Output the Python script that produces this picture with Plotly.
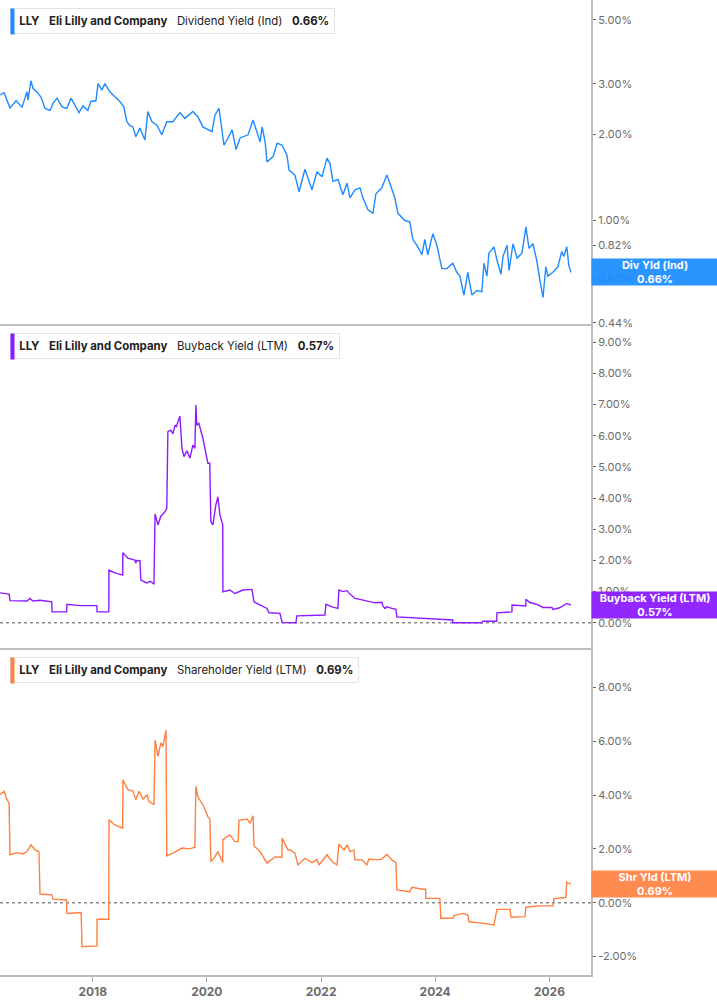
import math
import plotly.graph_objects as go

# ---------------- data ----------------
div_dates = ["2016-05-18","2016-06-13","2016-07-21","2016-08-29","2016-10-06","2016-11-07","2016-11-13","2016-12-02","2016-12-15",
"2017-01-16","2017-02-05","2017-03-02","2017-04-03","2017-04-22","2017-05-18","2017-06-19","2017-07-20","2017-08-15","2017-09-03",
"2017-10-05","2017-10-31","2017-12-01","2017-12-20","2018-01-22","2018-02-04","2018-03-01","2018-03-20","2018-04-21","2018-05-23",
"2018-06-24","2018-07-19","2018-08-08","2018-08-27","2018-09-15","2018-10-04","2018-10-30","2018-12-01","2018-12-20","2019-01-15",
"2019-02-16","2019-03-19","2019-04-20","2019-05-29","2019-07-13","2019-08-14","2019-10-04","2019-11-05","2019-12-07","2020-02-03",
"2020-02-22","2020-03-19","2020-04-07","2020-04-20","2020-05-16","2020-06-11","2020-07-06","2020-08-01","2020-09-21","2020-10-23",
"2020-12-07","2020-12-20","2021-01-08","2021-01-20","2021-02-28","2021-03-26","2021-04-27","2021-05-28","2021-06-10","2021-07-18",
"2021-08-13","2021-09-20","2021-11-04","2021-12-06","2022-01-07","2022-02-08","2022-02-27","2022-03-18","2022-04-19","2022-05-21",
"2022-06-16","2022-07-05","2022-08-06","2022-09-07","2022-09-26","2022-10-28","2022-11-29","2022-12-18","2023-01-25","2023-02-26",
"2023-03-17","2023-04-18","2023-05-08","2023-06-21","2023-07-23","2023-08-11","2023-09-12","2023-10-08","2023-10-27","2023-11-15",
"2023-12-17","2024-01-12","2024-02-13","2024-03-16","2024-04-23","2024-05-19","2024-06-07","2024-07-03","2024-07-28","2024-08-23",
"2024-09-24","2024-10-26","2024-11-08","2024-11-27","2024-12-10","2025-01-11","2025-01-30","2025-02-25","2025-03-10","2025-04-05",
"2025-04-18","2025-05-13","2025-06-08","2025-07-09","2025-08-04","2025-08-23","2025-09-18","2025-10-13","2025-11-01","2025-11-21",
"2025-12-09","2025-12-22","2026-01-23","2026-02-24","2026-03-21","2026-04-03","2026-04-22","2026-05-05","2026-05-18"]
div_vals = [2.74,2.79,2.47,2.62,2.48,2.81,2.63,3.07,2.89,
2.78,2.69,2.46,2.42,2.56,2.67,2.49,2.46,2.67,2.56,
2.38,2.51,2.42,2.60,2.62,3.00,2.85,3.00,2.81,2.70,
2.60,2.49,2.21,2.14,2.12,1.96,2.10,1.91,2.40,2.21,
2.15,1.99,2.21,2.21,2.38,2.27,2.40,2.30,2.12,2.04,
2.33,2.46,2.07,1.83,1.94,2.07,1.77,1.94,1.99,2.24,
1.88,2.12,1.88,1.60,1.67,1.86,1.83,1.69,1.50,1.44,
1.26,1.51,1.28,1.48,1.42,1.65,1.58,1.37,1.39,1.23,
1.35,1.20,1.28,1.30,1.20,1.09,1.06,1.24,1.30,1.44,
1.35,1.20,1.06,1.00,0.99,0.86,0.81,0.76,0.86,0.76,
0.90,0.82,0.68,0.68,0.71,0.66,0.64,0.55,0.66,0.55,
0.57,0.565,0.71,0.64,0.77,0.81,0.73,0.65,0.75,0.82,
0.67,0.83,0.74,0.77,0.95,0.80,0.83,0.72,0.62,0.54,
0.69,0.64,0.66,0.69,0.78,0.75,0.81,0.70,0.66]

bb_dates = ["2016-05-18","2016-07-15","2016-07-21","2016-11-07","2016-11-26","2016-12-15","2017-01-30","2017-04-14","2017-04-16",
"2017-07-18","2017-07-20","2017-10-12","2018-01-28","2018-01-29","2018-04-14","2018-04-15","2018-05-23","2018-07-12","2018-07-13",
"2018-08-14","2018-09-28","2018-10-04","2018-10-08","2018-10-30","2018-11-05","2018-12-14","2019-01-05","2019-01-28","2019-02-04",
"2019-02-23","2019-03-13","2019-04-08","2019-04-20","2019-04-27","2019-05-16","2019-05-29","2019-06-12","2019-06-20","2019-07-13",
"2019-07-26","2019-08-08","2019-08-27","2019-09-15","2019-10-04","2019-10-17","2019-10-23","2019-10-29","2019-11-11","2019-12-07",
"2019-12-26","2020-01-08","2020-01-20","2020-01-27","2020-02-09","2020-02-28","2020-03-12","2020-03-25","2020-04-12","2020-04-13",
"2020-05-28","2020-06-29","2020-08-19","2020-10-16","2020-10-29","2020-12-07","2021-01-20","2021-02-02","2021-04-13","2021-04-27",
"2021-07-24","2021-07-30","2022-01-26","2022-02-01","2022-03-12","2022-04-19","2022-04-25","2022-05-21","2022-06-16","2022-07-05",
"2022-08-06","2022-09-07","2022-10-21","2022-12-11","2023-01-25","2023-02-01","2023-02-14","2023-02-26","2023-03-30","2023-04-25",
"2023-05-01","2023-10-14","2024-04-22","2024-04-23","2024-10-26","2024-11-01","2025-01-29","2025-01-30","2025-04-11","2025-05-06",
"2025-05-07","2025-07-16","2025-08-03","2025-08-04","2025-08-29","2025-10-13","2025-11-21","2026-01-17","2026-01-23","2026-03-08",
"2026-04-22","2026-05-18"]
bb_vals = [0.96,0.92,0.71,0.70,0.78,0.70,0.72,0.67,0.35,
0.35,0.59,0.55,0.55,0.35,0.35,1.69,1.60,1.53,2.25,
2.07,2.01,1.91,2.00,1.99,1.37,1.28,1.33,1.24,3.49,
3.14,3.42,3.56,3.67,6.13,6.18,6.06,6.34,6.30,6.63,
5.60,5.33,5.52,5.28,5.70,5.60,6.99,6.34,6.40,5.92,
5.44,5.12,5.12,3.24,3.14,3.78,4.04,3.46,3.14,0.99,
1.05,0.94,1.05,1.07,0.67,0.57,0.46,0.32,0.30,0.01,
0.00,0.22,0.25,0.59,0.51,0.46,1.05,1.00,1.03,0.92,
0.78,0.75,0.70,0.64,0.66,0.54,0.46,0.51,0.46,0.43,
0.19,0.14,0.09,0.00,0.00,0.05,0.05,0.32,0.35,0.35,
0.57,0.54,0.54,0.75,0.65,0.59,0.49,0.49,0.43,0.48,
0.62,0.57]

shr_dates = ["2016-05-18","2016-06-13","2016-07-02","2016-07-15","2016-07-21","2016-09-04","2016-10-13","2016-11-07","2016-12-02",
"2016-12-28","2017-01-22","2017-01-29","2017-04-14","2017-04-22","2017-07-18","2017-07-20","2017-10-19","2017-10-25","2018-01-28",
"2018-01-29","2018-04-14","2018-04-15","2018-05-23","2018-07-12","2018-07-13","2018-08-14","2018-09-15","2018-10-04","2018-10-24",
"2018-11-19","2018-12-14","2018-12-27","2019-01-28","2019-02-04","2019-02-23","2019-03-13","2019-03-26","2019-04-15","2019-04-20",
"2019-05-29","2019-07-26","2019-09-15","2019-10-17","2019-10-23","2019-11-05","2019-12-07","2020-01-08","2020-01-21","2020-01-27",
"2020-02-22","2020-03-12","2020-04-12","2020-04-13","2020-05-28","2020-06-29","2020-07-20","2020-07-25","2020-09-15","2020-10-04",
"2020-10-23","2020-10-29","2020-12-07","2021-01-20","2021-02-09","2021-03-12","2021-04-26","2021-04-27","2021-06-04","2021-06-17",
"2021-07-18","2021-08-06","2021-09-20","2021-11-04","2021-12-06","2021-12-19","2022-02-08","2022-03-12","2022-04-13","2022-04-25",
"2022-05-28","2022-06-16","2022-07-05","2022-07-30","2022-08-06","2022-09-20","2022-10-21","2022-11-03","2022-12-24","2023-01-25",
"2023-02-26","2023-03-30","2023-04-25","2023-05-01","2023-07-23","2023-08-05","2023-10-14","2023-11-01","2023-11-02","2024-01-31",
"2024-02-06","2024-04-23","2024-04-30","2024-06-27","2024-07-28","2024-08-04","2024-10-13","2024-11-27","2025-01-11","2025-01-30",
"2025-04-24","2025-04-30","2025-07-28","2025-08-04","2025-11-01","2026-01-23","2026-01-30","2026-04-16","2026-04-22","2026-05-18"]
shr_vals = [4.01,4.14,3.83,3.70,1.78,1.86,1.81,1.90,2.15,
1.96,1.90,0.32,0.29,0.13,0.10,-0.40,-0.37,-1.64,-1.61,
-0.62,-0.62,3.08,2.89,2.77,4.57,4.20,4.15,3.83,4.14,
3.85,4.00,3.76,3.64,6.04,5.44,5.94,5.80,6.41,1.74,
1.84,2.03,2.00,2.06,4.32,3.93,3.64,3.20,3.10,1.53,
1.70,1.90,1.49,2.34,2.52,2.27,2.27,3.06,3.11,2.95,
3.23,2.11,1.90,1.47,1.56,1.70,1.69,2.40,1.96,1.96,
1.84,1.40,1.65,1.49,1.60,1.40,1.78,1.53,1.40,2.18,
1.96,2.15,1.90,1.95,1.59,1.59,1.40,1.62,1.59,1.62,
1.80,1.59,1.49,0.47,0.41,0.57,0.50,0.50,0.16,0.16,
-0.58,-0.58,-0.48,-0.40,-0.46,-0.71,-0.75,-0.79,-0.83,-0.25,
-0.25,-0.54,-0.52,-0.17,-0.12,-0.12,0.15,0.19,0.76,0.69]

div_ticks = [5.0, 3.0, 2.0, 1.0, 0.82, 0.63, 0.44]
bb_ticks = [0, 1, 2, 3, 4, 5, 6, 7, 8, 9]
shr_ticks = [-2, 0, 2, 4, 6, 8]
x_ticks = ["2018-01-01", "2020-01-01", "2022-01-01", "2024-01-01", "2026-01-01"]
x_ticklabels = ["2018", "2020", "2022", "2024", "2026"]

ticker = "LLY"
company = "Eli Lilly and Company"
series_names = ["Dividend Yield (Ind)", "Buyback Yield (LTM)", "Shareholder Yield (LTM)"]
short_names = ["Div Yld (Ind)", "Buyback Yield (LTM)", "Shr Yld (LTM)"]
last_vals = [div_vals[-1], bb_vals[-1], shr_vals[-1]]

# ---------------- style ----------------
BLUE = "#1f8bff"
PURPLE = "#8c1bff"
ORANGE = "#ff8040"
COLORS = [BLUE, PURPLE, ORANGE]
BOXCOL = ["rgba(26,140,255,0.93)", "rgba(140,27,255,0.95)", "rgba(255,133,72,0.95)"]
FONT = "Inter"

W, H = 717, 1005
ML, MR, MT, MB = 0, 126, 0, 30
PW = W - ML - MR
PH = H - MT - MB

def fx(p):
    return p / PW

def fy(p):
    return 1 - p / PH

doms = [[fy(324), 1.0], [fy(648), fy(325)], [0.0, fy(649)]]

fig = go.Figure()
ys = [div_vals, bb_vals, shr_vals]
xs = [div_dates, bb_dates, shr_dates]
for i in range(3):
    fig.add_trace(go.Scatter(x=xs[i], y=ys[i], mode="lines",
                             line=dict(color=COLORS[i], width=1.4),
                             xaxis="x" if i == 0 else f"x{i+1}",
                             yaxis="y" if i == 0 else f"y{i+1}",
                             showlegend=False, hoverinfo="skip"))

xrange = ["2016-05-18", "2026-09-24"]
axline = "#bdbdbd"
base_x = dict(range=xrange, showgrid=False, zeroline=False, showline=True,
              linecolor=axline, linewidth=1.5, domain=[0, 1])
base_y = dict(side="right", showgrid=False, zeroline=False, showline=True,
              linecolor=axline, linewidth=2, ticks="outside", ticklen=3,
              tickcolor="#666", tickfont=dict(family=FONT, size=11, color="#6b6b6b"))

def pct(v):
    return f"{v:.2f}%"

fig.update_layout(
    width=W, height=H,
    margin=dict(l=ML, r=MR, t=MT, b=MB, autoexpand=False),
    paper_bgcolor="white", plot_bgcolor="white",
    xaxis=dict(base_x, anchor="y", showticklabels=False, ticks=""),
    xaxis2=dict(base_x, anchor="y2", matches="x", showticklabels=False, ticks=""),
    xaxis3=dict(base_x, anchor="y3", matches="x", tickvals=x_ticks, ticktext=x_ticklabels,
                ticks="outside", ticklen=5, tickcolor="#aaa",
                tickfont=dict(family=FONT, size=12, color="#6b6b6b", weight="bold")),
    yaxis=dict(base_y, domain=doms[0], anchor="x", type="log",
               range=[math.log10(0.436), math.log10(5.87)],
               tickvals=div_ticks, ticktext=[pct(v) for v in div_ticks]),
    yaxis2=dict(base_y, domain=doms[1], anchor="x2", range=[-0.81, 9.555],
                tickvals=bb_ticks, ticktext=[pct(v) for v in bb_ticks]),
    yaxis3=dict(base_y, domain=doms[2], anchor="x3", range=[-2.69, 9.43],
                tickvals=shr_ticks, ticktext=[pct(v) for v in shr_ticks]),
)

# zero dotted lines
for yr in ["y2", "y3"]:
    fig.add_shape(type="line", xref="paper", x0=0, x1=1, yref=yr, y0=0, y1=0,
                  line=dict(color="#8a8a8a", width=1.5, dash="dot"), layer="below")

# legend boxes (top-left of each panel)
legend_tops = [8, 333, 657]
for i in range(3):
    txt = (f"\u00a0<b>{ticker}</b>\u00a0\u00a0\u00a0<b>{company}</b>\u00a0\u00a0\u00a0"
           f"{series_names[i]}\u00a0\u00a0\u00a0<b>{pct(last_vals[i])}</b>")
    fig.add_annotation(xref="paper", yref="paper", x=fx(10), y=fy(legend_tops[i]),
                       xanchor="left", yanchor="top", showarrow=False, text=txt,
                       font=dict(family=FONT, size=11.4, color="#222"),
                       bgcolor="white", bordercolor="#e4e4e4", borderwidth=1, borderpad=5)
    fig.add_annotation(xref="paper", yref="paper", x=fx(10), y=fy(legend_tops[i]),
                       xanchor="left", yanchor="top", showarrow=False, text=" ",
                       width=3, height=25, bgcolor=COLORS[i], borderpad=0,
                       font=dict(size=1))

# right-side value labels
label_y = [math.log10(last_vals[0]), last_vals[1], last_vals[2]]
for i in range(3):
    fig.add_annotation(xref="paper", yref="y" if i == 0 else f"y{i+1}",
                       x=1, y=label_y[i], xanchor="left", yanchor="middle",
                       showarrow=False,
                       text=f"<b>{short_names[i]}</b><br><b>{pct(last_vals[i])}</b>",
                       font=dict(family=FONT, size=11, color="white"),
                       bgcolor=BOXCOL[i], width=126, height=26, borderpad=0,
                       align="center")

fig.write_html("out.html", config={"displayModeBar": False},
               post_script="document.body.style.margin='0px';")
